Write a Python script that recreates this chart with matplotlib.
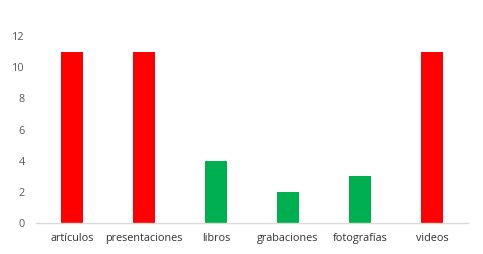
import matplotlib
matplotlib.use("Agg")
import matplotlib.pyplot as plt

categories = ["artículos", "presentaciones", "libros", "grabaciones", "fotografías", "videos"]
values = [11, 11, 4, 2, 3, 11]
bar_colors = ["#FF0000", "#FF0000", "#00B050", "#00B050", "#00B050", "#FF0000"]

plt.rcParams["font.family"] = ["Open Sans", "DejaVu Sans"]

fig = plt.figure(figsize=(4.83, 2.54), dpi=100)
ax = fig.add_axes([0.0745, 0.122, 0.8945, 0.736])

x = range(len(categories))
ax.bar(x, values, width=0.31, color=bar_colors)

ax.set_xlim(-0.5, len(categories) - 0.5)
ax.set_ylim(0, 12)
ax.set_yticks(range(0, 13, 2))
ax.set_xticks(list(x))
ax.set_xticklabels(categories)

for side in ["top", "right", "left"]:
    ax.spines[side].set_visible(False)
ax.spines["bottom"].set_color("#D9D9D9")
ax.spines["bottom"].set_linewidth(1)

ax.tick_params(axis="both", length=0, labelsize=7.8, colors="#333333")
ax.tick_params(axis="y", pad=8, colors="#595959")
ax.tick_params(axis="x", pad=7)

fig.savefig("out.png", dpi=100)
